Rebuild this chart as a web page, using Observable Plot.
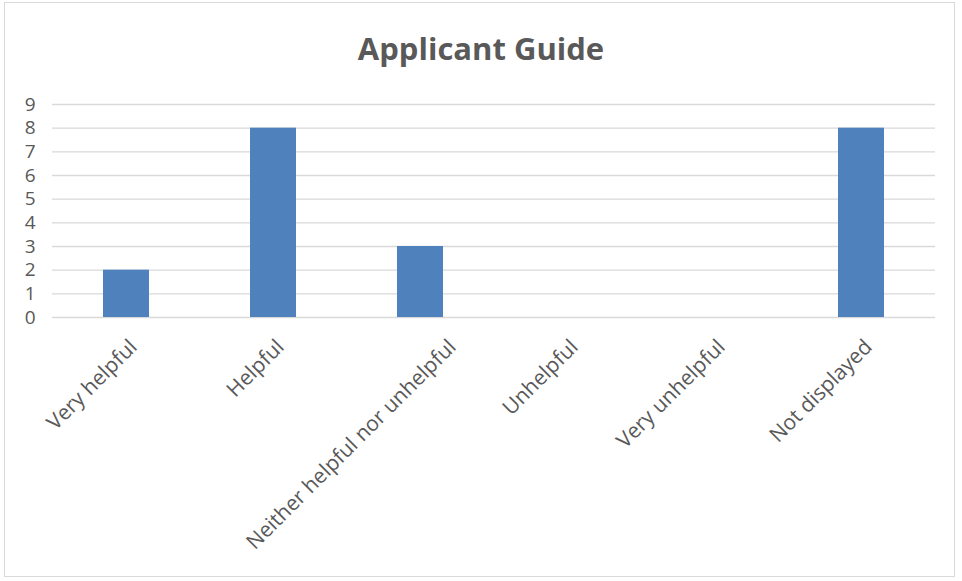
<!DOCTYPE html>
<html>
<head>
<meta charset="utf-8">
<script src="https://cdn.jsdelivr.net/npm/d3@7"></script>
<script src="https://cdn.jsdelivr.net/npm/@observablehq/plot@0.6"></script>
<style>
  html, body { margin: 0; padding: 0; background: #fff; }
  #frame {
    position: absolute; left: 4px; top: 2px; width: 951px; height: 575px;
    border: 1px solid #d9d9d9; box-sizing: border-box; overflow: hidden;
  }
  #title {
    position: absolute; left: 0; top: 27px; width: 962px; text-align: center;
    font-family: "Open Sans", sans-serif; font-weight: bold; font-size: 31px;
    color: #595959; line-height: 42px;
  }
  #chart { position: absolute; left: 0; top: 80px; }
</style>
</head>
<body>
<div id="frame"></div>
<div id="title">Applicant Guide</div>
<div id="chart"></div>
<script>
const categories = ["Very helpful", "Helpful", "Neither helpful nor unhelpful", "Unhelpful", "Very unhelpful", "Not displayed"];
const counts = [2, 8, 3, 0, 0, 8];
const yTicks = [0, 1, 2, 3, 4, 5, 6, 7, 8, 9];

const data = categories.map((c, i) => ({category: c, count: counts[i]}));
const longLabels = categories.filter((c) => c.length > 20);
const shortLabels = categories.filter((c) => c.length <= 20);

const chart = Plot.plot({
  width: 962,
  height: 495,
  marginLeft: 52,
  marginRight: 27,
  marginTop: 24,
  marginBottom: 258,
  style: {fontFamily: "'Open Sans', sans-serif", fontSize: "18px", color: "#595959", background: "transparent"},
  x: {domain: categories, paddingInner: 0.69, paddingOuter: 0.345, label: null},
  y: {domain: [0, 9], label: null},
  marks: [
    Plot.ruleY(yTicks, {stroke: "#d9d9d9", strokeWidth: 1.3}),
    Plot.barY(data, {x: "category", y: "count", fill: "#4f81bd"}),
    Plot.axisY({ticks: yTicks, tickSize: 0, tickPadding: 17, label: null, fill: "#595959", fontSize: 19}),
    Plot.axisX({ticks: shortLabels, tickSize: 0, tickRotate: -45, tickPadding: 26, dx: 7, label: null, fill: "#595959", fontSize: 21}),
    Plot.axisX({ticks: longLabels, tickSize: 0, tickRotate: -45, tickPadding: 26, dx: 32, label: null, fill: "#595959", fontSize: 21})
  ]
});
document.getElementById("chart").appendChild(chart);
</script>
</body>
</html>
